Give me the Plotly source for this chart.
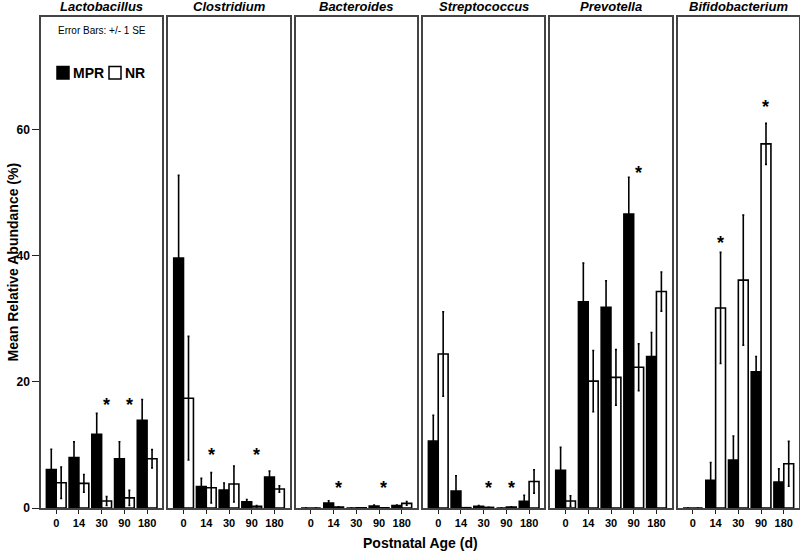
import plotly.graph_objects as go
from plotly.subplots import make_subplots

# ---------------- data ----------------
ages = ["0", "14", "30", "90", "180"]
genera = ["Lactobacillus", "Clostridium", "Bacteroides", "Streptococcus", "Prevotella", "Bifidobacterium"]

lacto_mpr = [6.1, 8.0, 11.7, 7.8, 13.9]
lacto_mpr_se = [3.2, 2.5, 3.3, 2.7, 3.3]
lacto_nr = [4.0, 3.9, 1.1, 1.6, 7.8]
lacto_nr_se = [2.5, 1.4, 0.7, 1.2, 1.45]

clost_mpr = [39.6, 3.4, 2.85, 1.0, 4.9]
clost_mpr_se = [13.1, 1.3, 1.1, 0.35, 0.95]
clost_nr = [17.4, 3.2, 3.8, 0.27, 3.0]
clost_nr_se = [9.8, 2.4, 2.85, 0.1, 0.5]

bact_mpr = [0.0, 0.8, 0.0, 0.3, 0.38]
bact_mpr_se = [0.0, 0.35, 0.0, 0.15, 0.1]
bact_nr = [0.0, 0.15, 0.05, 0.05, 0.74]
bact_nr_se = [0.0, 0.05, 0.0, 0.0, 0.3]

strep_mpr = [10.6, 2.7, 0.27, 0.0, 1.06]
strep_mpr_se = [4.1, 2.4, 0.1, 0.0, 0.95]
strep_nr = [24.4, 0.05, 0.1, 0.15, 4.2]
strep_nr_se = [6.7, 0.0, 0.0, 0.05, 1.85]

prev_mpr = [6.0, 32.7, 31.8, 46.6, 24.0]
prev_mpr_se = [3.6, 6.1, 4.2, 5.8, 3.8]
prev_nr = [1.1, 20.1, 20.7, 22.3, 34.3]
prev_nr_se = [0.85, 4.85, 4.4, 3.7, 3.1]

bifido_mpr = [0.0, 4.4, 7.6, 21.6, 4.1]
bifido_mpr_se = [0.0, 2.8, 3.8, 2.4, 2.1]
bifido_nr = [0.0, 31.7, 36.1, 57.7, 7.0]
bifido_nr_se = [0.0, 8.8, 10.3, 3.25, 3.55]

# significance markers: (age index, height of asterisk)
lacto_stars = [(2, 16.9), (3, 16.9)]
clost_stars = [(1, 9.1), (3, 9.1)]
bact_stars = [(1, 3.75), (3, 3.75)]
strep_stars = [(2, 3.75), (3, 3.75)]
prev_stars = [(3, 53.7)]
bifido_stars = [(1, 42.7), (3, 64.2)]

series_names = ["MPR", "NR"]

mpr_means = [lacto_mpr, clost_mpr, bact_mpr, strep_mpr, prev_mpr, bifido_mpr]
mpr_ses = [lacto_mpr_se, clost_mpr_se, bact_mpr_se, strep_mpr_se, prev_mpr_se, bifido_mpr_se]
nr_means = [lacto_nr, clost_nr, bact_nr, strep_nr, prev_nr, bifido_nr]
nr_ses = [lacto_nr_se, clost_nr_se, bact_nr_se, strep_nr_se, prev_nr_se, bifido_nr_se]
stars = [lacto_stars, clost_stars, bact_stars, strep_stars, prev_stars, bifido_stars]

# ---------------- figure ----------------
W, H = 800, 552
ML, MR, MT, MB = 41, 1, 17, 44
gap_px = 6
plot_w = W - ML - MR
plot_h = H - MT - MB
hs = gap_px / plot_w

BARGAP = 0.13
nr_offset = (1 - BARGAP) / 4  # centre of the second bar in a group

FONT = "Arial, Liberation Sans, Helvetica, sans-serif"
NARROW = "Liberation Sans Narrow, Arial Narrow, Arial, Liberation Sans, sans-serif"
LINE = "#444444"

fig = make_subplots(rows=1, cols=6, shared_yaxes=True, horizontal_spacing=hs)

x_idx = list(range(len(ages)))
for i, g in enumerate(genera):
    col = i + 1
    fig.add_trace(go.Bar(
        x=x_idx, y=mpr_means[i], name=series_names[0], legendgroup="MPR", showlegend=False,
        marker=dict(color="black", line=dict(color="black", width=1.5)),
        error_y=dict(type="data", array=mpr_ses[i], visible=True, color="black", thickness=1.6, width=1),
    ), row=1, col=col)
    fig.add_trace(go.Bar(
        x=x_idx, y=nr_means[i], name=series_names[1], legendgroup="NR", showlegend=False,
        marker=dict(color="white", line=dict(color="black", width=1.6)),
        error_y=dict(type="data", array=nr_ses[i], visible=True, color="black", thickness=1.6, width=1),
    ), row=1, col=col)

    xa = "x" if i == 0 else f"x{col}"
    ya = "y" if i == 0 else f"y{col}"
    for (k, yv) in stars[i]:
        fig.add_annotation(x=k + nr_offset, y=yv, xref=xa, yref=ya, text="<b>*</b>",
                           showarrow=False, font=dict(size=18, color="black", family=FONT),
                           xanchor="center", yanchor="middle", yshift=-4)

    fig.update_xaxes(
        row=1, col=col, range=[-0.67, 4.67], tickvals=x_idx, ticktext=[f"<b>{a}</b>" for a in ages],
        showline=True, mirror=True, linecolor=LINE, linewidth=1.5, showgrid=False, zeroline=False,
        ticks="outside", ticklen=4, tickwidth=1.2, tickcolor="#222222", fixedrange=True,
        tickfont=dict(size=11, color="black", family=NARROW),
    )
    fig.update_yaxes(
        row=1, col=col, range=[0, 77.8], showline=True, mirror=True, linecolor=LINE, linewidth=1.5,
        showgrid=False, zeroline=False, fixedrange=True,
        tickvals=[0, 20, 40, 60], ticktext=["<b>0</b>", "<b>20</b>", "<b>40</b>", "<b>60</b>"],
        ticks="outside" if i == 0 else "", ticklen=7, tickwidth=1.2, tickcolor="#222222",
        showticklabels=(i == 0), tickfont=dict(size=12, color="black", family=FONT),
    )

    dom = fig.layout[("xaxis" if i == 0 else f"xaxis{col}")].domain
    fig.add_annotation(x=(dom[0] + dom[1]) / 2, y=1, xref="paper", yref="paper",
                       text=f"<b><i>{g}</i></b>", showarrow=False, xanchor="center",
                       yanchor="middle", yshift=11,
                       font=dict(size=13, color="black", family=FONT))


def px_x(px):
    return (px - ML) / plot_w


def px_y(px):
    return 1 - (px - MT) / plot_h


# y-axis title
fig.add_annotation(x=px_x(12), y=0.5, xref="paper", yref="paper",
                   text="<b>Mean Relative Abundance (%)</b>", textangle=-90, showarrow=False,
                   xanchor="center", yanchor="middle",
                   font=dict(size=14, color="black", family=FONT))

dom1 = fig.layout.xaxis.domain
fig.add_annotation(x=(dom1[0] + dom1[1]) / 2, y=1, xref="paper", yref="paper",
                   text="Error Bars: +/- 1 SE", showarrow=False, xanchor="center",
                   yanchor="middle", yshift=-13,
                   font=dict(size=10, color="black", family=FONT))

fig.add_annotation(x=0.5, y=0, xref="paper", yref="paper", text="<b>Postnatal Age (d)</b>",
                   showarrow=False, xanchor="center", yanchor="middle", yshift=-35,
                   font=dict(size=14, color="black", family=FONT))

# ---- legend key (drawn inside the first panel) ----
key_fills = ["black", "white"]
key_left_px = [57, 109]
for name, fill, left in zip(series_names, key_fills, key_left_px):
    fig.add_shape(type="rect", xref="paper", yref="paper",
                  x0=px_x(left), x1=px_x(left + 12), y0=px_y(79), y1=px_y(66.5),
                  fillcolor=fill, line=dict(color="black", width=1.5))
    fig.add_annotation(x=px_x(left + 14), y=px_y(72.8), xref="paper", yref="paper",
                       text=f"<b>{name}</b>", showarrow=False, xanchor="left", yanchor="middle",
                       font=dict(size=14, color="black", family=FONT))

fig.update_layout(
    width=W, height=H, margin=dict(l=ML, r=MR, t=MT, b=MB, pad=0, autoexpand=False),
    paper_bgcolor="white", plot_bgcolor="white",
    barmode="group", bargap=BARGAP, bargroupgap=0,
    showlegend=False, hovermode=False,
    font=dict(family=FONT, color="black"),
)

fig.write_html("out.html", config={"displayModeBar": False},
               post_script="document.body.style.margin='0px';")
